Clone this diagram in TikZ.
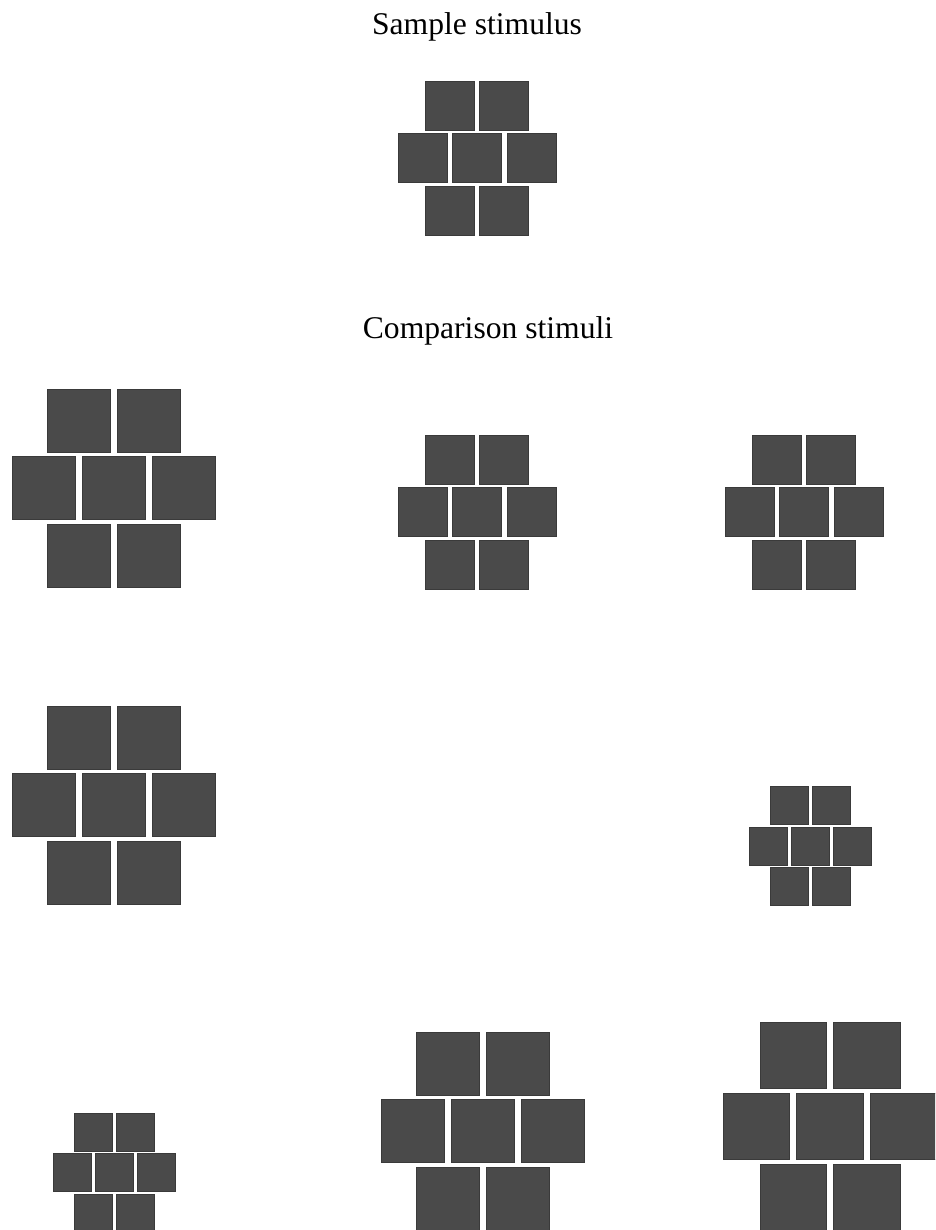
\documentclass[tikz,border=0pt]{standalone}
\usepackage{fontspec}
\setmainfont{Liberation Serif}
\usetikzlibrary{positioning}
\definecolor{tilefill}{RGB}{74,74,74}
\definecolor{tileedge}{RGB}{58,58,58}
\tikzset{
  tile/.style={rectangle,draw=tileedge,fill=tilefill,line width=.6pt,inner sep=0pt},
  heading/.style={font=\fontsize{31.6}{38}\selectfont,inner sep=0pt,anchor=base}
}
% seven tiles in three rows: name, centre x, centre y, tile size
\newcommand{\brickset}[4]{%
  \begin{scope}[shift={(#2,#3)}]
    \foreach \i/\dx/\dy in {1/-0.5/-1,2/0.5/-1,3/-1/0,4/0/0,5/1/0,6/-0.5/1,7/0.5/1}
      \node[tile,minimum size=#4pt] (#1-\i) at ({\dx*1.11*#4},{\dy*1.07*#4}) {};
  \end{scope}}

\begin{document}
\begin{tikzpicture}[x=1pt,y=-1pt]
  \useasboundingbox (0,0) rectangle (935,1230);
  \clip (0,0) rectangle (935,1230);
  \node[heading] (sampletitle) at (477,35) {Sample stimulus};
  \brickset{sample}{477}{158}{49}

  \node[heading] (comptitle) at (488,338) {Comparison stimuli};
  \brickset{cmpA}{114}{488}{63}
  \brickset{cmpB}{477}{512}{49}
  \brickset{cmpC}{804}{512}{49}
  \brickset{cmpD}{114}{805}{63}
  \brickset{cmpE}{810.5}{846}{38}
  \brickset{cmpF}{114}{1172.5}{38}
  \brickset{cmpG}{482.5}{1131}{63}
  \brickset{cmpH}{830}{1126.5}{66.5}
\end{tikzpicture}
\end{document}
